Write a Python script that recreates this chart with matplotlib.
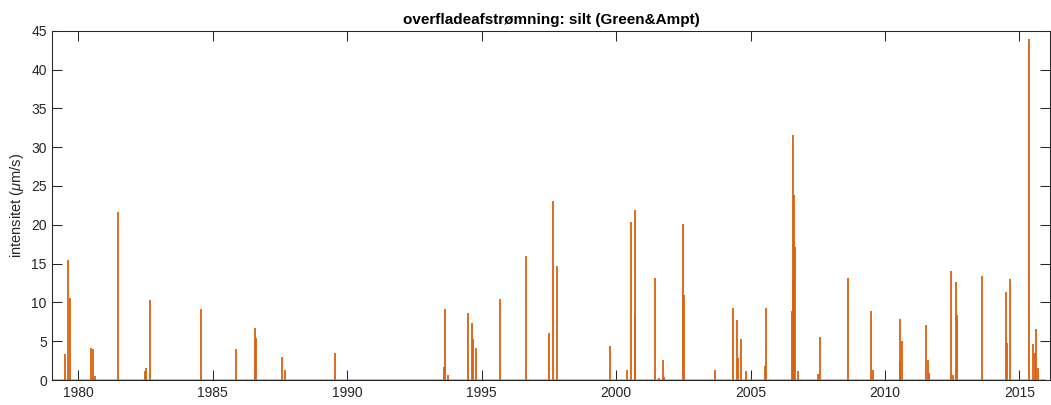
import numpy as np
import matplotlib
matplotlib.use("Agg")
import matplotlib.pyplot as plt

plt.rcParams['font.family'] = ['Liberation Sans', 'DejaVu Sans']
plt.rcParams['mathtext.fontset'] = 'custom'
plt.rcParams['mathtext.it'] = 'Liberation Sans:italic'
plt.rcParams['mathtext.rm'] = 'Liberation Sans'

# event times (decimal year) and peak intensity (um/s)
years = [1979.50, 1979.60, 1979.69, 1980.46, 1980.54, 1980.60, 1981.48, 1982.47,
         1982.52, 1982.67, 1984.56, 1985.86, 1986.56, 1986.61, 1987.56, 1987.70,
         1989.55, 1993.61, 1993.64, 1993.76, 1994.50, 1994.63, 1994.69, 1994.78,
         1995.67, 1996.66, 1997.50, 1997.64, 1997.79, 1999.78, 2000.40, 2000.55,
         2000.69, 2000.72, 2001.44, 2001.61, 2001.74, 2001.79, 2002.48, 2002.53,
         2003.68, 2004.35, 2004.49, 2004.54, 2004.65, 2004.83, 2005.54, 2005.59,
         2006.53, 2006.56, 2006.59, 2006.63, 2006.67, 2006.77, 2007.50, 2007.58,
         2008.63, 2009.47, 2009.55, 2010.55, 2010.57, 2010.64, 2011.52, 2011.59,
         2011.64, 2012.46, 2012.53, 2012.65, 2012.69, 2013.60, 2014.49, 2014.54,
         2014.64, 2015.36, 2015.49, 2015.58, 2015.63, 2015.70]
values = [3.4, 15.5, 10.6, 4.1, 4.0, 0.5, 21.7, 1.2,
          1.55, 10.3, 9.1, 4.05, 6.65, 5.4, 3.0, 1.25,
          3.45, 1.7, 9.2, 0.6, 8.6, 7.35, 5.3, 4.1,
          10.45, 16.0, 6.1, 23.05, 14.75, 4.35, 1.35, 20.3,
          8.1, 21.9, 13.15, 0.3, 2.6, 0.45, 20.15, 10.95,
          1.3, 9.3, 7.75, 2.9, 5.3, 1.15, 1.8, 9.25,
          8.9, 12.8, 31.6, 23.85, 17.15, 1.1, 0.75, 5.6,
          13.1, 8.9, 1.3, 7.85, 2.3, 5.05, 7.15, 2.6,
          0.9, 14.1, 0.65, 12.6, 8.4, 13.4, 11.35, 4.75,
          13.0, 43.9, 4.65, 3.5, 6.6, 1.6]
t_start, t_end = 1979.03, 2015.95

col = '#D9600C'

fig = plt.figure(figsize=(10.51, 4.05), dpi=100)
ax = fig.add_axes([0.0498, 0.0617, 0.9488, 0.8625])

ax.plot([t_start, t_end], [0, 0], color=col, lw=1.2, alpha=0.6)
ax.vlines(years, 0, values, color=col, lw=1.3)

ax.set_xlim(1979.03, 2016.12)
ax.set_ylim(0, 45)
ax.set_xticks(np.arange(1980, 2016, 5))
ax.set_yticks(np.arange(0, 46, 5))
ax.tick_params(direction='in', length=7.2, width=0.75, top=True, right=True,
               labelsize=10, colors='#262626', labelcolor='#262626', pad=4)
for s in ax.spines.values():
    s.set_linewidth(0.75)
    s.set_color('#262626')

ax.set_title('overfladeafstrømning: silt (Green&Ampt)', fontsize=11,
             fontweight='bold', pad=5)
ax.set_ylabel(r'intensitet ($\mu$m/s)', fontsize=10.5, labelpad=4, color='#262626')

fig.savefig('out.png', dpi=100)
